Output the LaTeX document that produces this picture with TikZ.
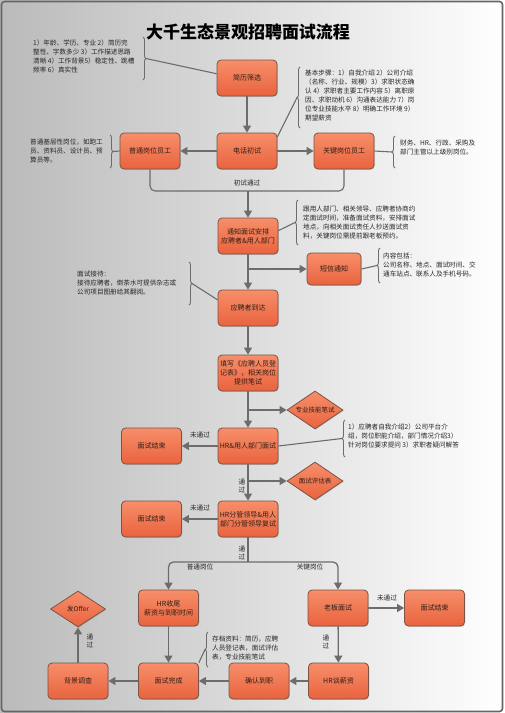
\documentclass[tikz,border=0pt]{standalone}
\usepackage{fontspec}
\setmainfont{Noto Sans CJK SC}
\usetikzlibrary{shapes.geometric,arrows.meta,shadows,decorations.pathreplacing}
\definecolor{boxtop}{RGB}{247,142,106}
\definecolor{boxbot}{RGB}{233,99,62}
\definecolor{boxline}{RGB}{122,84,70}
\definecolor{flowgray}{RGB}{108,108,108}
\definecolor{inkdark}{RGB}{45,30,22}
\tikzset{
  stepbox/.style={draw=boxline, line width=0.8pt, rounded corners=4pt,
    top color=boxtop, bottom color=boxbot, minimum width=60pt,
    minimum height=36pt, align=center, inner sep=1pt, text=inkdark,
    font=\fontsize{7}{9}\selectfont,
    drop shadow={shadow xshift=0.8pt, shadow yshift=-0.8pt, opacity=0.35}},
  choice/.style={diamond, aspect=1.5, draw=boxline, line width=0.8pt,
    top color=boxtop, bottom color=boxbot, minimum width=56pt,
    minimum height=38pt, inner sep=0pt, text=inkdark,
    font=\fontsize{6.5}{8}\selectfont,
    drop shadow={shadow xshift=0.8pt, shadow yshift=-0.8pt, opacity=0.35}},
  flow/.style={draw=flowgray, line width=1.3pt, -{Triangle[length=7pt,width=8pt]}},
  link/.style={draw=flowgray, line width=1.1pt},
  note/.style={align=left, anchor=north west, inner sep=0pt, text=black!85,
    font=\fontsize{6.6}{8.9}\selectfont},
  notebrace/.style={draw=flowgray, line width=0.9pt, decorate,
    decoration={brace, amplitude=3pt}},
  tag/.style={inner sep=0pt, text=black!85, align=center,
    font=\fontsize{6.6}{7.6}\selectfont},
}
\begin{document}
\begin{tikzpicture}[x=1pt,y=-1pt]
\useasboundingbox (0,0) rectangle (504,713);
% page
\shade[left color=black!27, right color=white] (0,0) rectangle (504,713);
\draw[black!60, line width=1.6pt, rounded corners=3pt] (1.5,1.5) rectangle (502.5,711.5);
\node[font=\fontsize{17}{20}\selectfont\bfseries] (title) at (248,32) {大千生态景观招聘面试流程};

% steps
\node[stepbox] (screen) at (247,78) {简历筛选};
\node[stepbox] (phone) at (247,151) {电话初试};
\node[stepbox] (normal) at (150,151) {普通岗位员工};
\node[stepbox] (key) at (344,151) {关键岗位员工};
\node[stepbox] (notify) at (248,236) {通知面试安排\\应聘者\&用人部门};
\node[stepbox, minimum width=54pt, minimum height=32pt] (sms) at (334,269) {短信通知};
\node[stepbox] (arrive) at (248,308) {应聘者到达};
\node[stepbox] (form) at (248,373) {填写《应聘人员登\\记表》，相关岗位\\提供笔试};
\node[choice] (written) at (315,410) {专业技能笔试};
\node[stepbox] (firstInt) at (248,446) {HR\&用人部门面试};
\node[stepbox] (endA) at (151.5,446) {面试结束};
\node[choice] (evalForm) at (315,481) {面试评估表};
\node[stepbox] (secondInt) at (248,519) {HR分管领导\&用人\\部门分管领导复试};
\node[stepbox] (endB) at (151.5,519) {面试结束};
\node[stepbox] (wrapUp) at (168.5,608) {HR收尾\\薪资与到职时间};
\node[stepbox] (boss) at (338,608) {老板面试};
\node[stepbox] (endC) at (434.5,608) {面试结束};
\node[choice, minimum width=55pt, minimum height=36pt] (offer) at (78,609) {发Offer};
\node[stepbox] (background) at (78,681) {背景调查};
\node[stepbox] (done) at (168.5,681) {面试完成};
\node[stepbox] (confirm) at (259,681) {确认到职};
\node[stepbox] (salary) at (338.5,681) {HR谈薪资};

% notes
\node[note] (screenNote) at (33,40) {1）年龄、学历、专业 2）简历完\\整性、字数多少 3）工作描述思路\\清晰 4）工作背景5）稳定性、跳槽\\频率 6）真实性};
\draw[notebrace] (143,37) -- (143,80);
\coordinate (screenTip) at (146,58.5);
\node[note] (phoneNote) at (305,70) {基本步骤：1）自我介绍 2）公司介绍\\（名称、行业、规模）3）求职状态确\\认 4）求职者主要工作内容 5）离职原\\因、求职动机 6）沟通表达能力 7）岗\\位专业技能水平 8）明确工作环境 9）\\期望薪资};
\draw[notebrace] (300,128) -- (300,67);
\coordinate (phoneTip) at (297,97.5);
\node[note] (normalNote) at (30,139) {普通基层性岗位，如跑工\\员、资料员、设计员、预\\算员等。};
\draw[notebrace] (110,135) -- (110,168);
\coordinate (normalTip) at (113,151.5);
\node[note] (keyNote) at (400,140) {财务、HR、行政、采购及\\部门主管以上级别岗位。};
\draw[notebrace] (395,168) -- (395,136);
\coordinate (keyTip) at (392,152);
\node[note] (notifyNote) at (303,206) {跟用人部门、相关领导、应聘者协商约\\定面试时间，准备面试资料，安排面试\\地点，向相关面试责任人抄送面试资\\料，关键岗位需提前跟老板预约。};
\draw[notebrace] (298,245) -- (298,200);
\coordinate (notifyTip) at (295,222.5);
\node[note] (smsNote) at (383,253) {内容包括：\\公司名称、地点、面试时间、交\\通车站点、联系人及手机号码。};
\draw[notebrace] (380,283) -- (380,248);
\coordinate (smsTip) at (377,265.5);
\node[note] (arriveNote) at (77,271) {面试接待：\\接待应聘者，倒茶水可提供杂志或\\公司项目图册给其翻阅。};
\draw[notebrace] (189,262) -- (189,305);
\coordinate (arriveTip) at (192,283.5);
\node[note] (firstNote) at (348,424) {1）应聘者自我介绍2）公司平台介\\绍，岗位职能介绍，部门情况介绍3）\\针对岗位要求提问 3）求职者疑问解答};
\draw[notebrace] (345,457) -- (345,420);
\coordinate (firstTip) at (342,438.5);
\node[note] (archiveNote) at (212,636) {存档资料：简历，应聘\\人员登记表，面试评估\\表，专业技能笔试};
\draw[notebrace] (208,667) -- (208,632);
\coordinate (archiveTip) at (205,649.5);

\draw[link] (screenTip) -- (screen.172);
\draw[link] (phoneTip) -- (phone.25);
\draw[link] (normalTip) -- (normal.west);
\draw[link] (keyTip) -- (key.east);
\draw[link] (notifyTip) -- (notify.10);
\draw[link] (smsTip) -- (sms.east);
\draw[link] (arriveTip) -- (arrive.165);
\draw[link] (firstTip) -- (firstInt.east);
\draw[link] (archiveTip) -- (done.north east);

% flow
\coordinate (passJoin) at (248,191);
\coordinate (smsFork) at (248,269);
\coordinate (writtenFork) at (248,410);
\coordinate (evalFork) at (248,481);
\coordinate (postFork) at (248,562);
\draw[flow] (screen) -- (phone);
\draw[flow] (phone) -- (normal);
\draw[flow] (phone) -- (key);
\draw[link, rounded corners=5pt] (normal.south) |- (passJoin) -| (key.south);
\draw[flow] (passJoin) -- (notify);
\node[tag] (passTag) at (247,183) {初试通过};
\draw[flow] (notify) -- (arrive);
\draw[flow] (smsFork) -- (sms);
\draw[flow] (arrive) -- (form);
\draw[flow] (form) -- (firstInt);
\draw[flow] (writtenFork) -- (written);
\draw[flow] (firstInt) -- (endA);
\node[tag] (failA) at (200,435) {未通过};
\draw[flow] (firstInt) -- (secondInt);
\draw[flow] (evalFork) -- (evalForm);
\node[tag] (okA) at (242,486) {通\\过};
\draw[flow] (secondInt) -- (endB);
\node[tag] (failB) at (200,508) {未通过};
\draw[link] (secondInt) -- (postFork);
\draw[flow, rounded corners=5pt] (postFork) -| (wrapUp);
\draw[flow, rounded corners=5pt] (postFork) -| (boss);
\node[tag] (okB) at (242,553) {通\\过};
\node[tag] (normalTag) at (200,567) {普通岗位};
\node[tag] (keyTag) at (310,567) {关键岗位};
\draw[flow] (boss) -- (endC);
\node[tag] (failC) at (387,598) {未通过};
\draw[flow] (boss) -- (salary);
\node[tag] (okC) at (326,642) {通\\过};
\draw[flow] (salary) -- (confirm);
\draw[flow] (confirm) -- (done);
\draw[flow] (wrapUp) -- (done);
\draw[flow] (done) -- (background);
\draw[flow] (background) -- (offer);
\node[tag] (okD) at (90,641) {通\\过};
\end{tikzpicture}
\end{document}
